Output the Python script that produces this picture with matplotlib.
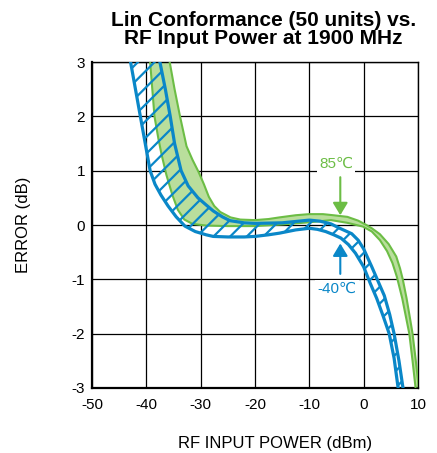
import matplotlib
matplotlib.use('Agg')
import matplotlib.pyplot as plt

plt.rcParams['font.family'] = ['Liberation Sans', 'DejaVu Sans']
plt.rcParams['axes.unicode_minus'] = False
plt.rcParams['hatch.linewidth'] = 1.6

# -40C band: lower/left edge and upper/right edge (dBm, dB)
cold_lo_x = [-43.5, -42.9, -42.0, -41.1, -40.2, -39.3, -38.4, -37.3, -36.0, -34.5,
             -32.9, -31.0, -29.0, -27.7, -25.0, -22.0, -20.0, -17.5, -15.5, -12.5,
             -10.0, -8.5, -7.0, -5.5, -4.2, -2.8, -1.5, 0.0, 1.2, 2.4,
             3.6, 4.7, 5.6, 6.4, 6.6]
cold_lo_y = [3.3, 3.0, 2.5, 2.0, 1.5, 1.0, 0.75, 0.55, 0.35, 0.15,
             -0.02, -0.12, -0.18, -0.21, -0.22, -0.22, -0.21, -0.18, -0.15, -0.09,
             -0.06, -0.08, -0.12, -0.18, -0.24, -0.36, -0.52, -0.77, -1.07, -1.35,
             -1.68, -2.0, -2.45, -3.04, -3.3]
cold_hi_x = [-37.8, -37.5, -36.5, -35.6, -34.8, -33.6, -32.3, -30.5, -29.0, -27.7,
             -26.0, -24.6, -22.0, -20.0, -15.0, -12.0, -10.0, -8.0, -6.0, -4.4,
             -2.2, -1.0, 0.0, 1.5, 2.8, 3.8, 4.8, 5.6, 6.5, 7.3, 7.5]
cold_hi_y = [3.3, 3.0, 2.5, 2.0, 1.5, 1.0, 0.72, 0.5, 0.37, 0.26,
             0.15, 0.08, 0.04, 0.03, 0.04, 0.07, 0.09, 0.07, 0.02, -0.06,
             -0.16, -0.28, -0.44, -0.77, -1.07, -1.3, -1.65, -2.0, -2.5, -3.04, -3.3]

# 85C band: lower/left edge and upper/right edge
hot_lo_x = [-39.5, -39.3, -38.9, -38.5, -37.8, -37.2, -36.3, -35.2, -34.2, -33.0,
            -31.5, -29.0, -25.0, -20.0, -15.0, -10.0, -6.0, -3.0, -0.1, 1.5,
            3.0, 4.3, 5.3, 6.1, 6.6, 7.1, 7.8, 8.4, 9.0, 9.6, 9.7]
hot_lo_y = [3.3, 3.0, 2.5, 2.0, 1.6, 1.3, 0.92, 0.55, 0.28, 0.1,
            0.02, -0.01, -0.02, -0.02, 0.01, 0.05, 0.09, 0.04, -0.03, -0.12,
            -0.28, -0.48, -0.7, -0.95, -1.15, -1.35, -1.7, -2.0, -2.5, -3.04, -3.3]
hot_hi_x = [-36.0, -35.7, -34.8, -33.8, -32.6, -31.5, -30.4, -29.4, -28.5, -27.5,
            -26.4, -24.5, -22.7, -20.0, -17.5, -15.5, -12.5, -10.0, -7.5, -5.6,
            -3.0, -1.0, 0.5, 1.5, 3.0, 4.6, 6.0, 6.7, 7.2, 7.9,
            8.5, 9.0, 9.6, 10.2, 10.3]
hot_hi_y = [3.3, 3.0, 2.5, 2.0, 1.45, 1.2, 0.98, 0.75, 0.52, 0.35,
            0.24, 0.14, 0.1, 0.09, 0.11, 0.14, 0.18, 0.2, 0.2, 0.18,
            0.15, 0.08, 0.0, -0.06, -0.17, -0.35, -0.58, -0.8, -1.0, -1.35,
            -1.7, -2.0, -2.5, -3.04, -3.3]

x_ticks = [-50, -40, -30, -20, -10, 0, 10]
y_ticks = [-3, -2, -1, 0, 1, 2, 3]

blue = '#0a87c8'
green = '#6cbd45'
green_fill = '#b9de9c'

fig = plt.figure(figsize=(4.37, 4.53), dpi=100)
ax = fig.add_axes([0.2105, 0.1435, 0.746, 0.7196])

ax.set_xlim(-50, 10)
ax.set_ylim(-3, 3)
ax.set_xticks(x_ticks)
ax.set_yticks(y_ticks)
ax.grid(True, color='black', lw=0.9, zorder=0)
ax.set_axisbelow(True)
ax.tick_params(length=0, labelsize=11, pad=5)
ax.tick_params(axis='x', pad=7)
for side in ['left', 'bottom']:
    ax.spines[side].set_linewidth(1.6)
for side in ['top', 'right']:
    ax.spines[side].set_linewidth(1.0)

# 85C band, solid fill
ax.fill(hot_lo_x + hot_hi_x[::-1], hot_lo_y + hot_hi_y[::-1],
        facecolor=green_fill, edgecolor='none', zorder=2)
ax.plot(hot_lo_x, hot_lo_y, color=green, lw=1.5, zorder=3, solid_joinstyle='round')
ax.plot(hot_hi_x, hot_hi_y, color=green, lw=1.5, zorder=3, solid_joinstyle='round')

# -40C band, hatched
ax.fill(cold_lo_x + cold_hi_x[::-1], cold_lo_y + cold_hi_y[::-1],
        facecolor='none', edgecolor=blue, lw=0, hatch='//', zorder=4)
ax.plot(cold_lo_x, cold_lo_y, color=blue, lw=2.3, zorder=5, solid_joinstyle='round')
ax.plot(cold_hi_x, cold_hi_y, color=blue, lw=2.3, zorder=5, solid_joinstyle='round')

# temperature labels with arrows
ax.text(-5.1, 1.13, '85℃', color=green, fontsize=11, ha='center', va='center',
        bbox=dict(facecolor='white', edgecolor='none', pad=1.5), zorder=6)
ax.annotate('', xy=(-4.3, 0.18), xytext=(-4.3, 0.88),
            arrowprops=dict(arrowstyle='-|>,head_length=0.5,head_width=0.3', color=green,
                            lw=1.5, mutation_scale=15, shrinkA=0, shrinkB=0), zorder=6)
ax.text(-4.9, -1.18, '-40℃', color=blue, fontsize=11, ha='center', va='center',
        bbox=dict(facecolor='white', edgecolor='none', pad=1.5), zorder=6)
ax.annotate('', xy=(-4.3, -0.34), xytext=(-4.3, -0.9),
            arrowprops=dict(arrowstyle='-|>,head_length=0.5,head_width=0.3', color=blue,
                            lw=1.5, mutation_scale=15, shrinkA=0, shrinkB=0), zorder=6)

fig.text(0.629, 0.020, 'RF INPUT POWER (dBm)', fontsize=12, ha='center', va='center')
fig.text(0.053, 0.503, 'ERROR (dB)', fontsize=12, ha='center', va='center', rotation=90)

fig.text(0.602, 0.975, 'Lin Conformance (50 units) vs.\nRF Input Power at 1900 MHz',
         ha='center', va='top', fontsize=15, fontweight='bold', linespacing=0.92)

fig.savefig('out.png', dpi=100)
